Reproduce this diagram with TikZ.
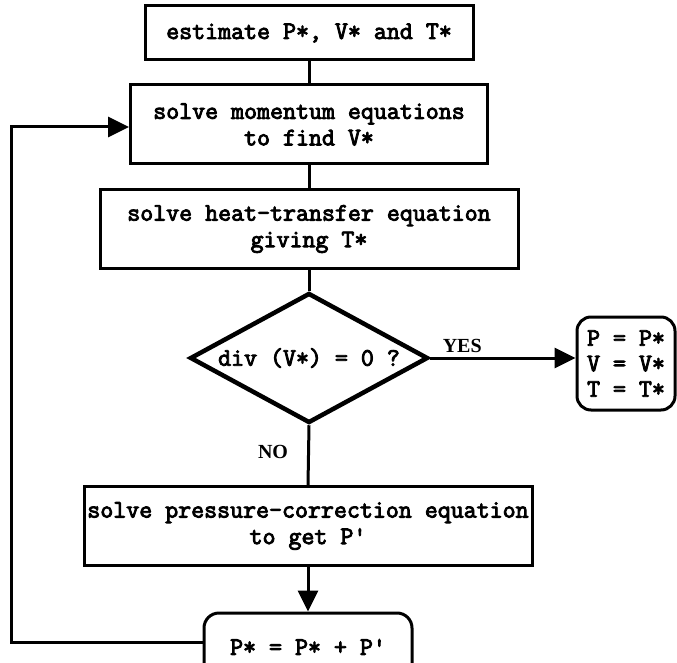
\documentclass[tikz,border=0pt]{standalone}
\usepackage{fontspec}
\setmonofont{Latin Modern Mono}[AutoFakeBold=3.5]
\newfontfamily\lblfont{Liberation Serif}
\usetikzlibrary{shapes.geometric,arrows.meta}
\tikzset{
  base/.style={font=\ttfamily\bfseries\fontsize{25.2}{26.5}\selectfont,
               align=center, inner sep=0pt, line width=3pt},
  procbox/.style={base, draw, rectangle},
  termbox/.style={base, draw, rectangle, rounded corners=14pt},
  decision/.style={base, draw, diamond, shape aspect=1.83, line width=4.5pt},
  link/.style={line width=3pt},
  arrowlink/.style={link, -{Triangle[length=21pt,width=20pt]}},
  lbl/.style={font=\lblfont\bfseries\fontsize{20}{22}\selectfont, inner sep=0pt},
}
\begin{document}
\begin{tikzpicture}[x=1pt,y=-1pt]
  \useasboundingbox (0,0) rectangle (677,663);
  \clip (0,0) rectangle (677,663);

  % main column of steps
  \node[procbox, minimum width=328pt, minimum height=54pt] (est) at (309,33)
    {estimate P*, V* and T*};
  \node[procbox, minimum width=357pt, minimum height=79pt] (mom) at (309,124.5)
    {solve momentum equations\\to find V*};
  \node[procbox, minimum width=418pt, minimum height=78pt] (heat) at (309,229)
    {solve heat-transfer equation\\giving T*};
  \node[decision, minimum width=238pt, minimum height=130pt] (div) at (309,358)
    {div (V*) = 0 ?};
  \node[termbox, font=\ttfamily\bfseries\fontsize{25.2}{25.5}\selectfont,
        minimum width=98pt, minimum height=93pt] (res) at (626,363.5)
    {P = P*\\V = V*\\T = T*};
  \node[procbox, minimum width=448pt, minimum height=79pt] (pc) at (308,526)
    {solve pressure-correction equation\\to get P'};
  \node[termbox, rounded corners=15pt, minimum width=208pt, minimum height=68pt] (upd)
    at (308,647) {P* = P* + P'};

  % connectors
  \draw[link] (est) -- (mom);
  \draw[link] (mom) -- (heat);
  \draw[link] (heat) -- (div);
  \draw[arrowlink] (div.east) -- (div.east -| res.west)
    node[lbl, pos=0.22, above=4pt] {YES};
  \draw[link] (div.south) -- (pc.north)
    node[lbl, pos=0.45, left=19pt] {NO};
  \draw[arrowlink] (pc) -- (upd);

  % feedback loop back to the momentum step
  \coordinate (bl) at (11,642);
  \coordinate (tl) at (11,127);
  \draw[arrowlink, line join=miter] (upd.west |- bl) -- (bl) -- (tl) -- (tl -| mom.west);
\end{tikzpicture}
\end{document}
